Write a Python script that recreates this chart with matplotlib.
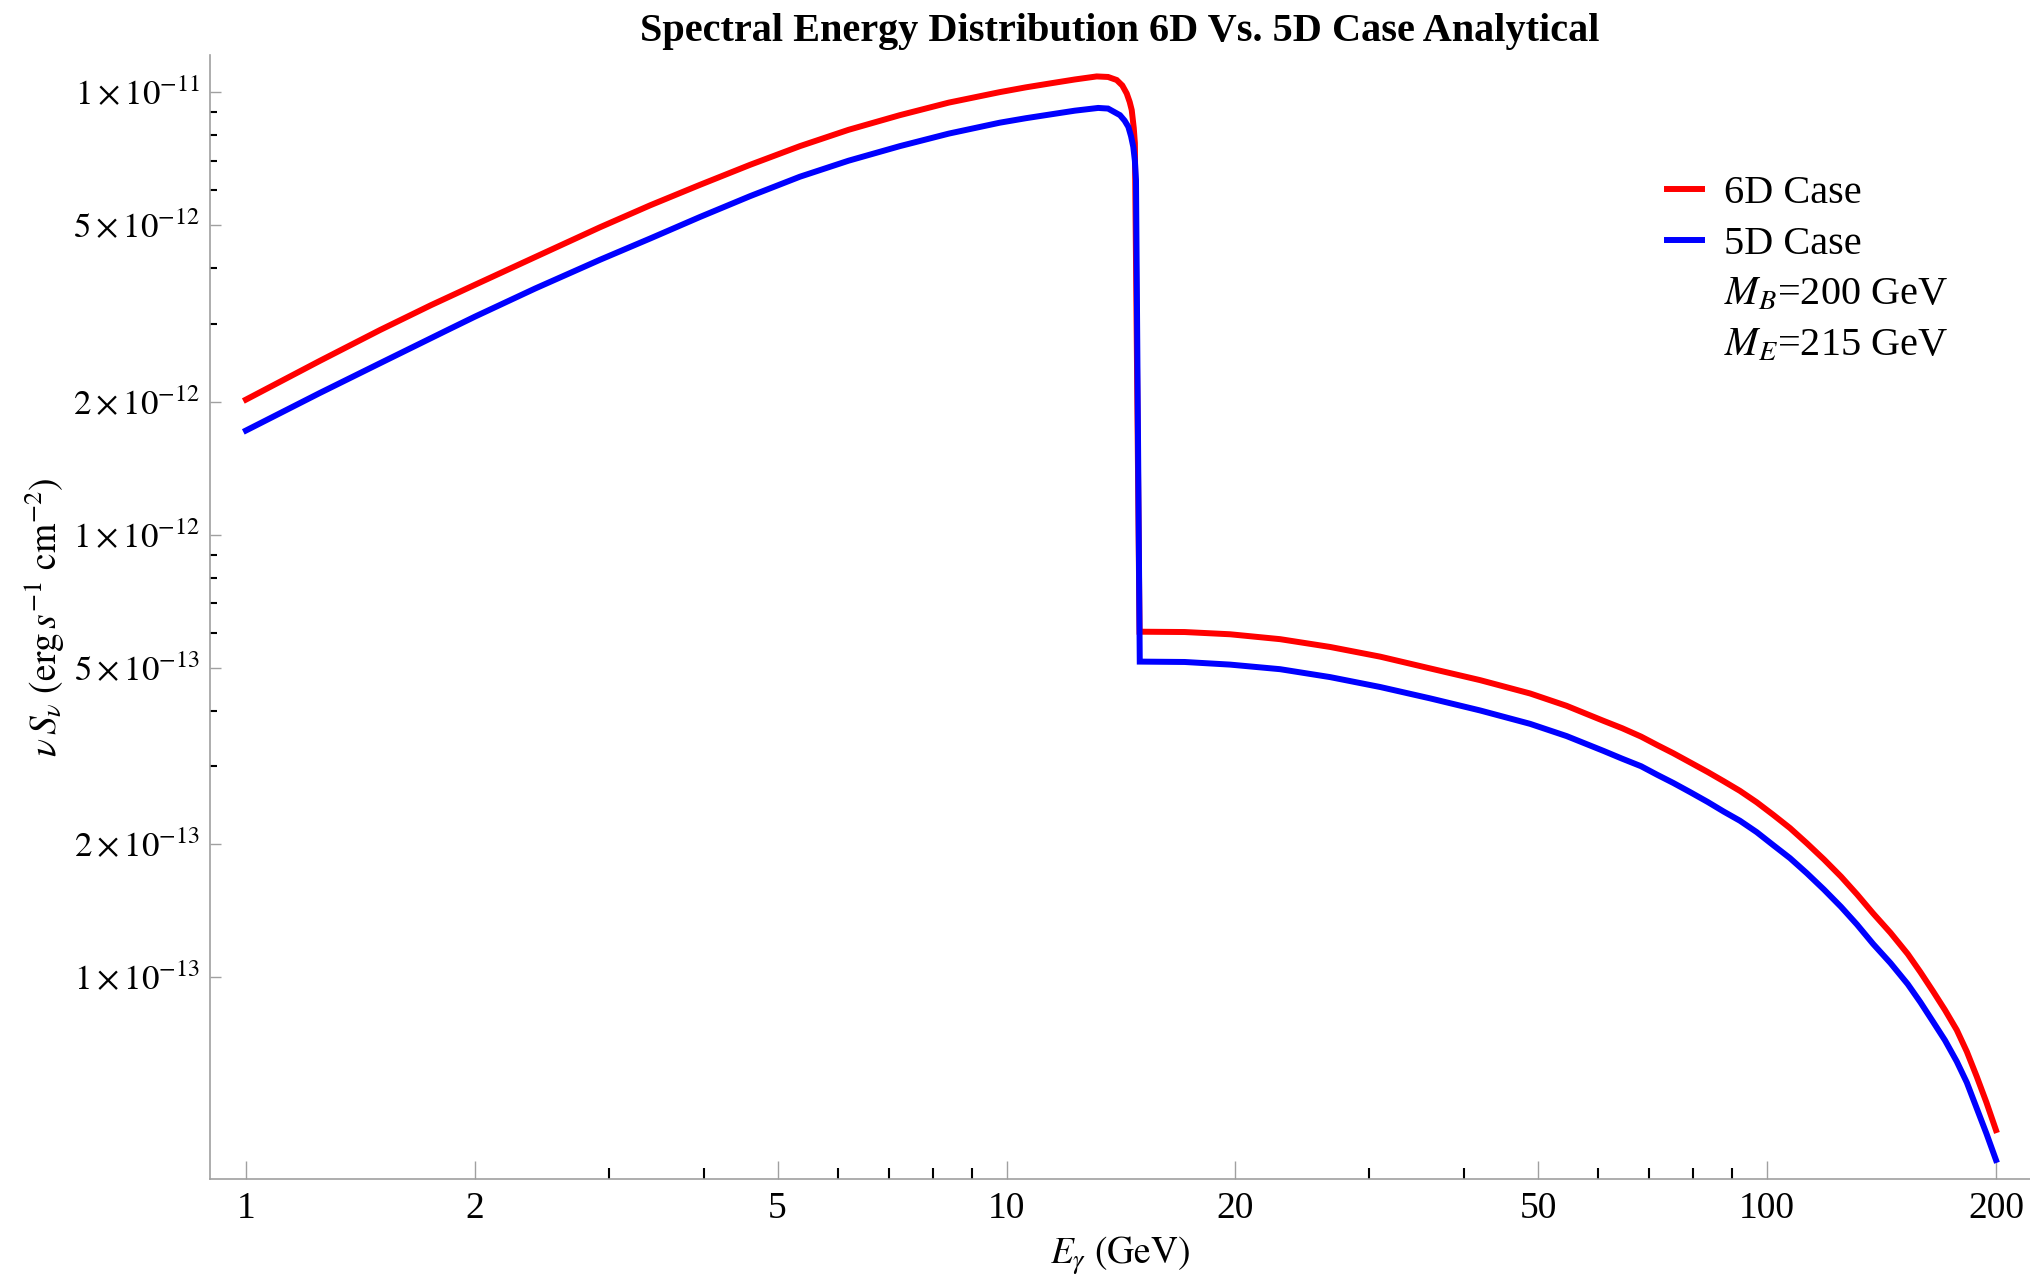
import matplotlib.pyplot as plt
from matplotlib.lines import Line2D
from matplotlib.ticker import FixedLocator, NullFormatter

plt.rcParams['font.family'] = ['Liberation Serif', 'DejaVu Serif']
plt.rcParams['mathtext.fontset'] = 'stix'

# photon energy (GeV) and nu*S_nu (erg s^-1 cm^-2)
e_6d = [1.0, 1.25, 1.5, 1.75, 2.0, 2.4, 2.92, 3.4, 3.95, 4.6, 5.35, 6.2, 7.24, 8.4,
        9.8, 10.6, 11.4, 12.3, 13.14, 13.6, 13.96, 14.2, 14.39, 14.52, 14.61, 14.70,
        14.75, 14.96, 17.15, 19.68, 22.9, 26.63, 31.0, 36.06, 41.95, 48.81, 54.5,
        60.93, 64.5, 68.3, 71.7, 75.3, 79.3, 83.6, 87.7, 92.1, 96.9, 101.9, 107.2,
        112.8, 118.8, 125.1, 131.3, 137.9, 145.3, 153.1, 159.1, 165.4, 171.4, 177.6,
        183.1, 188.7, 194.3, 200.0]
sed_6d = [2.02e-12, 2.47e-12, 2.90e-12, 3.30e-12, 3.67e-12, 4.24e-12, 4.95e-12,
          5.55e-12, 6.17e-12, 6.85e-12, 7.55e-12, 8.22e-12, 8.87e-12, 9.47e-12,
          1.00e-11, 1.025e-11, 1.046e-11, 1.068e-11, 1.085e-11, 1.082e-11, 1.065e-11,
          1.035e-11, 9.93e-12, 9.50e-12, 9.11e-12, 8.30e-12, 7.67e-12,
          6.04e-13, 6.03e-13, 5.96e-13, 5.81e-13, 5.58e-13, 5.305e-13, 4.99e-13,
          4.695e-13, 4.38e-13, 4.108e-13, 3.80e-13, 3.656e-13, 3.50e-13, 3.35e-13,
          3.21e-13, 3.058e-13, 2.91e-13, 2.775e-13, 2.64e-13, 2.488e-13, 2.33e-13,
          2.175e-13, 2.01e-13, 1.848e-13, 1.69e-13, 1.541e-13, 1.395e-13, 1.262e-13,
          1.13e-13, 1.028e-13, 9.29e-14, 8.44e-14, 7.61e-14, 6.80e-14, 5.97e-14,
          5.22e-14, 4.52e-14]

e_5d = [1.0, 1.25, 1.5, 1.84, 2.0, 2.4, 2.92, 3.4, 3.95, 4.6, 5.35, 6.2, 7.24, 8.4,
        9.8, 10.6, 11.4, 12.3, 13.2, 13.6, 14.10, 14.30, 14.46, 14.58, 14.68, 14.75,
        14.80, 14.97, 17.15, 19.68, 22.9, 26.63, 31.0, 36.06, 41.95, 48.81, 54.5,
        60.93, 64.5, 68.3, 71.7, 75.3, 79.3, 83.6, 87.7, 92.1, 96.9, 101.9, 107.2,
        112.8, 118.8, 125.1, 131.3, 137.9, 145.3, 153.1, 159.1, 165.4, 171.4, 177.6,
        183.1, 188.7, 194.3, 200.0]
sed_5d = [1.72e-12, 2.09e-12, 2.44e-12, 2.90e-12, 3.11e-12, 3.60e-12, 4.18e-12,
          4.67e-12, 5.22e-12, 5.82e-12, 6.44e-12, 7.00e-12, 7.55e-12, 8.06e-12,
          8.53e-12, 8.73e-12, 8.90e-12, 9.08e-12, 9.21e-12, 9.18e-12, 8.87e-12,
          8.62e-12, 8.35e-12, 7.95e-12, 7.52e-12, 7.00e-12, 6.33e-12,
          5.17e-13, 5.16e-13, 5.09e-13, 4.97e-13, 4.77e-13, 4.53e-13, 4.27e-13,
          4.01e-13, 3.74e-13, 3.51e-13, 3.25e-13, 3.12e-13, 3.00e-13, 2.87e-13,
          2.75e-13, 2.62e-13, 2.49e-13, 2.37e-13, 2.26e-13, 2.13e-13, 1.99e-13,
          1.86e-13, 1.72e-13, 1.58e-13, 1.444e-13, 1.317e-13, 1.19e-13, 1.078e-13,
          9.66e-14, 8.79e-14, 7.93e-14, 7.21e-14, 6.46e-14, 5.79e-14, 5.06e-14,
          4.44e-14, 3.87e-14]

x_ticks = [1, 2, 5, 10, 20, 50, 100, 200]
x_minor = [3, 4, 6, 7, 8, 9, 30, 40, 60, 70, 80, 90]
y_ticks = [1e-13, 2e-13, 5e-13, 1e-12, 2e-12, 5e-12, 1e-11]
y_labels = [r'$1\times10^{-13}$', r'$2\times10^{-13}$', r'$5\times10^{-13}$',
            r'$1\times10^{-12}$', r'$2\times10^{-12}$', r'$5\times10^{-12}$',
            r'$1\times10^{-11}$']
y_minor = [3e-13, 4e-13, 6e-13, 7e-13, 8e-13, 9e-13,
           3e-12, 4e-12, 6e-12, 7e-12, 8e-12, 9e-12]

fig = plt.figure(figsize=(20.3, 12.77), dpi=100)
ax = fig.add_axes([0.1033, 0.0767, 0.8967, 0.8802])

ax.plot(e_6d, sed_6d, color=(1, 0, 0), lw=4.3, solid_joinstyle='miter')
ax.plot(e_5d, sed_5d, color=(0, 0, 1), lw=4.3, solid_joinstyle='miter')

ax.set_xscale('log')
ax.set_yscale('log')
ax.set_xlim(0.896, 221.7)
ax.set_ylim(3.504e-14, 1.2127e-11)

ax.xaxis.set_major_locator(FixedLocator(x_ticks))
ax.xaxis.set_minor_locator(FixedLocator(x_minor))
ax.set_xticklabels([str(t) for t in x_ticks])
ax.xaxis.set_minor_formatter(NullFormatter())
ax.yaxis.set_major_locator(FixedLocator(y_ticks))
ax.yaxis.set_minor_locator(FixedLocator(y_minor))
ax.set_yticklabels(y_labels)
ax.yaxis.set_minor_formatter(NullFormatter())

for side in ['top', 'right']:
    ax.spines[side].set_visible(False)
for side in ['left', 'bottom']:
    ax.spines[side].set_color('#a0a0a0')
    ax.spines[side].set_linewidth(1.2)

ax.tick_params(axis='both', which='both', direction='in')
ax.tick_params(axis='x', which='major', length=13, width=1, color='#a0a0a0',
               labelsize=27, pad=9)
ax.tick_params(axis='x', which='minor', length=8, width=1.5, color='black')
ax.tick_params(axis='y', which='major', length=7.7, width=1, color='#a0a0a0',
               labelsize=25, pad=7)
ax.tick_params(axis='y', which='minor', length=5, width=1.5, color='black')

ax.set_xlabel(r'$E_\gamma\ (\mathrm{GeV})$', fontsize=27)
ax.xaxis.set_label_coords(0.5, -0.0685)
ax.xaxis.label.set_verticalalignment('center')
ax.set_ylabel(r'$\nu\,S_\nu\ (\mathrm{erg}\,s^{-1}\ \mathrm{cm}^{-2})$', fontsize=27)
ax.yaxis.set_label_coords(-0.0905, 0.5)
ax.yaxis.label.set_verticalalignment('center')

fig.text(1120 / 2030, 1 - 41 / 1277,
         'Spectral Energy Distribution 6D Vs. 5D Case Analytical',
         ha='center', va='baseline', fontsize=29, fontweight='bold')

handles = [Line2D([], [], color=(1, 0, 0), lw=4.3),
           Line2D([], [], color=(0, 0, 1), lw=4.3),
           Line2D([], [], color='none'),
           Line2D([], [], color='none')]
labels = ['6D Case', '5D Case', r'$M_B$=200 GeV', r'$M_E$=215 GeV']
ax.legend(handles, labels, loc='upper left', bbox_to_anchor=(1667 / 2030, 1 - 175 / 1277),
          bbox_transform=fig.transFigure, frameon=False, fontsize=29,
          handlelength=0.87, handletextpad=0.55, labelspacing=0.34,
          borderaxespad=0, borderpad=0)

fig.savefig('out.png', dpi=100)
